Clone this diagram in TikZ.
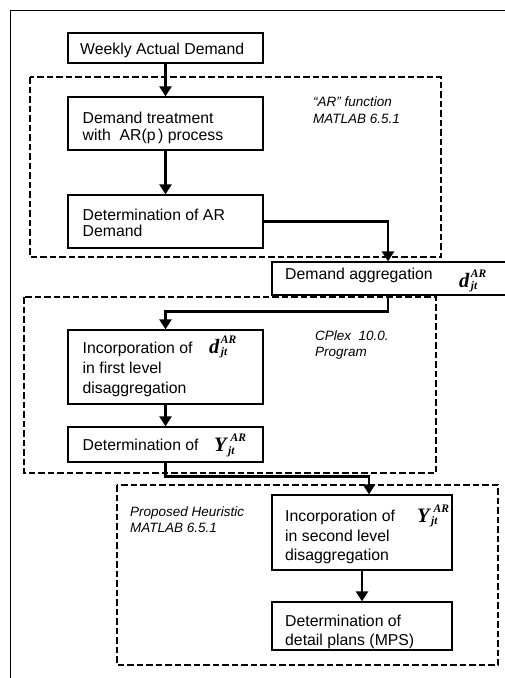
\documentclass[tikz,border=0pt]{standalone}
\usepackage{fontspec}
\setmainfont{Liberation Sans}
\newfontfamily\tms{Liberation Serif}
\usetikzlibrary{arrows.meta,calc}
\newcommand\scrfont{\fontsize{11.5}{11.5}\selectfont\tms\bfseries\itshape}
\newcommand\jtvar[3]{{\fontsize{20.5}{20.5}\selectfont\tms\bfseries\itshape #1}\kern#2\rlap{\raisebox{-2.5pt}{\scrfont jt}}\kern#3\raisebox{10pt}{\scrfont AR}}
\newcommand\txtlines[2]{\vtop{\baselineskip=#1\relax\lineskiplimit=-20pt #2}}
\tikzset{
  stepbox/.style={draw, line width=1.3pt, inner sep=0pt},
  boxtext/.style={inner sep=0pt, anchor=base west, font=\fontsize{15.8}{20}\selectfont},
  arr/.style={line width=2.8pt, -{Triangle[width=12pt,length=10pt]}},
  dashbox/.style={line width=2.1pt, dash pattern=on 6.5pt off 3pt},
  note/.style={inner sep=0pt, anchor=base west, font=\fontsize{13.5}{16}\selectfont\itshape},
  mathlbl/.style={inner sep=0pt, anchor=base west}
}
\begin{document}
\begin{tikzpicture}[x=1pt,y=-1pt]
\useasboundingbox (0,0) rectangle (505,678);
% outer frame (top and left)
\draw[line width=0.9pt] (10,678) -- (10,10) -- (506,10);
% dashed groups
\draw[dashbox] (30,77) rectangle (441,257);
\draw[dashbox] (24,297) rectangle (436,473);
\draw[dashbox] (117,485) rectangle (498,665);
% boxes
\node[stepbox, minimum width=195pt, minimum height=30pt] (b1) at (165.5,48) {};
\node[stepbox, minimum width=195pt, minimum height=53pt] (b2) at (165.5,123.5) {};
\node[stepbox, minimum width=195pt, minimum height=53pt] (b3) at (165.5,221.5) {};
\node[stepbox, minimum width=238pt, minimum height=33pt] (agg) at (391,278.5) {};
\node[stepbox, minimum width=195pt, minimum height=74pt] (b4) at (165.5,367) {};
\node[stepbox, minimum width=195pt, minimum height=35pt] (b5) at (165.5,444.5) {};
\node[stepbox, minimum width=180pt, minimum height=75pt] (b6) at (362,532.5) {};
\node[stepbox, minimum width=180pt, minimum height=48pt] (b7) at (362,626) {};
% box texts
\node[boxtext] (t1) at (80,54.5) {Weekly Actual Demand};
\node[boxtext] (t2) at (82.5,123.3) {\txtlines{17pt}{\hbox{Demand treatment}\hbox{with\ \ AR(p\,) process}}};
\node[boxtext] (t3) at (82.5,220) {\txtlines{16.7pt}{\hbox{Determination of AR}\hbox{Demand}}};
\node[boxtext] (t4) at (285,279) {Demand aggregation};
\node[boxtext] (t5) at (82.5,353) {\txtlines{20pt}{\hbox{Incorporation of}\hbox{in first level}\hbox{disaggregation}}};
\node[boxtext] (t6) at (82.5,450) {Determination of};
\node[boxtext] (t7) at (285,521.5) {\txtlines{19.5pt}{\hbox{Incorporation of}\hbox{in second level}\hbox{disaggregation}}};
\node[boxtext] (t8) at (285,626.7) {\txtlines{18.5pt}{\hbox{Determination of}\hbox{detail plans (MPS)}}};
% math labels
\node[mathlbl] (m1) at (459,287) {\jtvar{d}{1.5pt}{0pt}};
\node[mathlbl] (m2) at (209,353) {\jtvar{d}{1.5pt}{0pt}};
\node[mathlbl] (m3) at (214,451.5) {\jtvar{Y}{1.5pt}{2.5pt}};
\node[mathlbl] (m4) at (417,522) {\jtvar{Y}{1.5pt}{2.5pt}};
% notes
\node[note] (n1) at (313,106.7) {\txtlines{16.5pt}{\hbox{“AR” function}\hbox{MATLAB 6.5.1}}};
\node[note] (n2) at (315,340) {\txtlines{16.5pt}{\hbox{CPlex\ \ 10.0.}\hbox{Program}}};
\node[note] (n3) at (130,516.7) {\txtlines{15.5pt}{\hbox{Proposed Heuristic}\hbox{MATLAB 6.5.1}}};
% connectors
\coordinate (xa) at (388,0);
\coordinate (xb) at (369,0);
\draw[arr] (b1) -- (b2);
\draw[arr] (b2) -- (b3);
\draw[arr] (b3.east) -| (agg.north -| xa);
\draw[arr] (agg.south -| xa) |- ($(b4.north)+(0,-18)$) -- (b4.north);
\draw[arr] (b4) -- (b5);
\draw[arr] (b5.south) |- ($(b6.north -| xb)+(0,-18)$) -- (b6.north -| xb);
\draw[arr] (b6) -- (b7);
\end{tikzpicture}
\end{document}
